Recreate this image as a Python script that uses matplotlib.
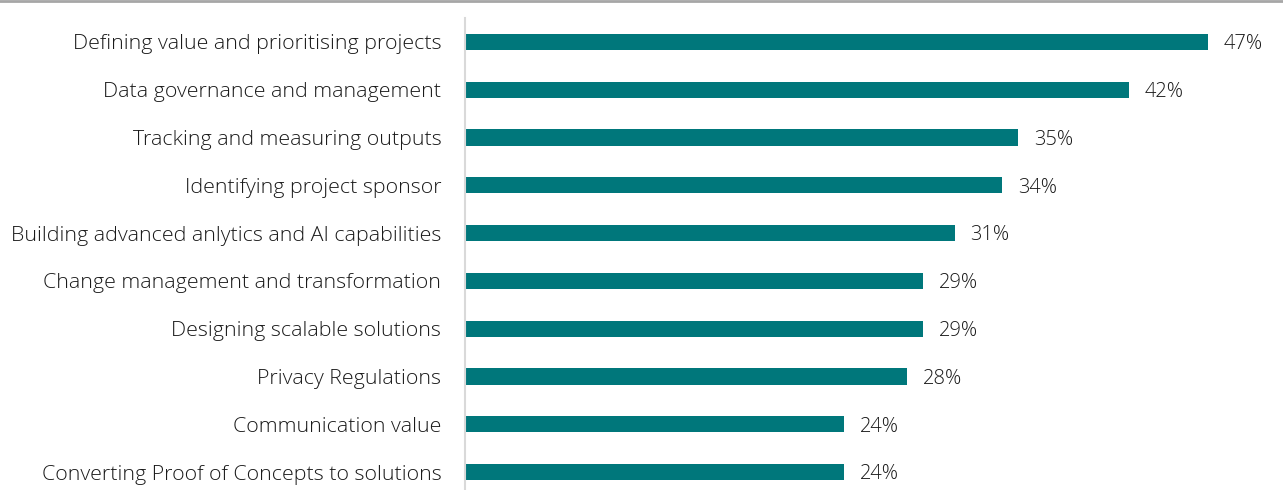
import matplotlib.pyplot as plt
from matplotlib.lines import Line2D

categories = [
    "Defining value and prioritising projects",
    "Data governance and management",
    "Tracking and measuring outputs",
    "Identifying project sponsor",
    "Building advanced anlytics and AI capabilities",
    "Change management and transformation",
    "Designing scalable solutions",
    "Privacy Regulations",
    "Communication value",
    "Converting Proof of Concepts to solutions",
]
values = [47, 42, 35, 34, 31, 29, 29, 28, 24, 24]

plt.rcParams['font.family'] = ['Open Sans', 'DejaVu Sans']

fig = plt.figure(figsize=(12.83, 4.9), dpi=100)
ax = fig.add_axes([0.3624, -0.0122, 0.6158, 0.9755])

pos = list(range(len(categories)))
ax.barh(pos, values, height=0.34, color='#00777B')
for p, v in zip(pos, values):
    ax.text(v + 1.0, p + 0.05, f"{v}%", va='center', ha='left', fontsize=14.5,
            color='#1a1a1a', fontweight='light')

ax.set_xlim(0, 50)
ax.set_ylim(len(categories) - 0.5, -0.5)
ax.set_yticks(pos)
ax.set_yticklabels(categories, fontsize=15.4, color='#1a1a1a', fontweight='light')
ax.tick_params(axis='y', length=0, pad=17)
ax.set_xticks([])
for s in ['top', 'right', 'bottom']:
    ax.spines[s].set_visible(False)
ax.spines['left'].set_color('#D9D9D9')
ax.spines['left'].set_linewidth(1.5)

fig.add_artist(Line2D([0, 1], [0.997, 0.997], color='#A6A6A6', linewidth=2,
                      transform=fig.transFigure))

fig.savefig('out.png', dpi=100)
